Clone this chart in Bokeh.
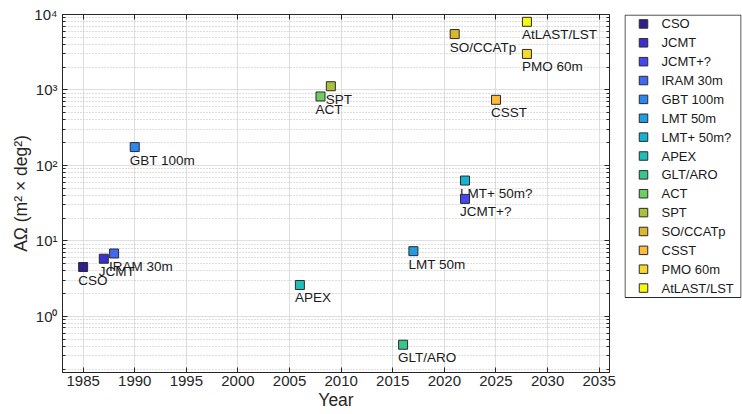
from bokeh.plotting import figure
from bokeh.layouts import row
from bokeh.models import (ColumnDataSource, FixedTicker, LogAxis, LinearAxis,
                          CustomJSTickFormatter, Range1d)
from bokeh.embed import file_html
from bokeh.resources import INLINE
from bokeh.core.properties import value

# ---- data ----
names = ["CSO", "JCMT", "JCMT+?", "IRAM 30m", "GBT 100m", "LMT 50m", "LMT+ 50m?",
         "APEX", "GLT/ARO", "ACT", "SPT", "SO/CCATp", "CSST", "PMO 60m", "AtLAST/LST"]
years = [1985, 1987, 2022, 1988, 1990, 2017, 2022, 2006, 2016, 2008, 2009, 2021, 2025, 2028, 2028]
a_omega = [4.5, 5.8, 36, 6.8, 175, 7.3, 63, 2.6, 0.42, 820, 1120, 5500, 740, 3000, 8000]
colors = ["#2e1f8f", "#3c30d0", "#4548f0", "#3f68f5", "#2b86f0", "#209de0", "#12b4d2",
          "#1ebfb8", "#38c68f", "#6ecc66", "#a9c23a", "#ddb72b", "#fdba3d", "#f7d92a", "#f8fa0e"]

x_ticks = [1985, 1990, 1995, 2000, 2005, 2010, 2015, 2020, 2025, 2030, 2035]
y_ticks = [1, 10, 100, 1000, 10000]
y_tick_labels = ["10\u2070", "10\u00b9", "10\u00b2", "10\u00b3", "10\u2074"]
y_minor = [m * 10.0 ** e for e in range(-1, 4) for m in range(2, 10)]

FONT = "Liberation Sans"
AX = "#262626"
TXT = "#1a1a1a"
TOP, BOTTOM = 14, 42

src = ColumnDataSource(dict(year=years, val=a_omega, name=names, color=colors))

# ---- main plot ----
p = figure(width=624, height=414, x_range=(1983, 2036), y_range=(0.18, 1e4),
           y_axis_type="log", output_backend="svg", toolbar_location=None,
           min_border_left=62, min_border_right=15, min_border_top=TOP, min_border_bottom=BOTTOM)
p.outline_line_color = AX
p.background_fill_color = "white"

xt = FixedTicker(ticks=x_ticks)
yt = FixedTicker(ticks=y_ticks, minor_ticks=y_minor)

xa = p.xaxis[0]
xa.ticker = xt
xa.axis_label = "Year"
ya = p.yaxis[0]
ya.ticker = yt
ya.axis_label = "A\u03a9 (m\u00b2 \u00d7 deg\u00b2)"
ya.major_label_overrides = {t: l for t, l in zip(y_ticks, y_tick_labels)}

for ax in (xa, ya):
    ax.axis_line_color = AX
    ax.major_tick_line_color = AX
    ax.minor_tick_line_color = AX
    ax.major_tick_in = 5
    ax.major_tick_out = 0
    ax.minor_tick_in = 3
    ax.minor_tick_out = 0
    ax.major_label_text_font = FONT
    ax.major_label_text_font_size = "15px"
    ax.major_label_text_color = AX
    ax.axis_label_text_font = FONT
    ax.axis_label_text_font_size = "17.5px"
    ax.axis_label_text_font_style = "normal"
    ax.axis_label_text_color = AX
xa.minor_tick_line_color = None
xa.major_label_standoff = 3
xa.axis_label_standoff = 1
ya.major_label_standoff = 5
ya.axis_label_standoff = 0

blank = CustomJSTickFormatter(code="return ''")
top = LinearAxis(ticker=xt, formatter=blank, major_label_text_font_size="0px",
                 major_label_standoff=0, major_tick_in=5, major_tick_out=0,
                 minor_tick_line_color=None, axis_line_color=AX, major_tick_line_color=AX)
right = LogAxis(ticker=yt, formatter=blank, major_label_text_font_size="0px",
                major_label_standoff=0, major_tick_in=5, major_tick_out=0,
                minor_tick_in=3, minor_tick_out=0,
                axis_line_color=AX, major_tick_line_color=AX, minor_tick_line_color=AX)
p.add_layout(top, "above")
p.add_layout(right, "right")

p.xgrid.grid_line_color = "#dedede"
p.ygrid.grid_line_color = "#dedede"
p.ygrid.minor_grid_line_color = "#bdbdbd"
p.ygrid.minor_grid_line_dash = "1 2"

p.text(x="year", y="val", text="name", source=src, x_offset=-5, y_offset=13,
       text_font=value(FONT), text_font_size="13.5px", text_baseline="middle",
       text_align="left", text_color=TXT)
p.scatter(x="year", y="val", source=src, marker="square", size=9,
          fill_color="color", line_color="#2b2b2b", line_width=1)

# ---- legend panel (same frame rows as the plot; box drawn as a quad) ----
n = len(names)
frame_h = 414 - TOP - BOTTOM
box_h = 283
rows_in_frame = frame_h / (box_h / n)
leg_src = ColumnDataSource(dict(row=[i + 0.5 for i in range(n)], name=names, color=colors))
lg = figure(width=118, height=414, x_range=Range1d(0, 117), y_range=Range1d(rows_in_frame, 0),
            output_backend="svg", toolbar_location=None,
            x_axis_location=None, y_axis_location=None,
            min_border_left=0, min_border_right=1, min_border_top=TOP, min_border_bottom=BOTTOM)
lg.grid.visible = False
lg.outline_line_color = None
lg.quad(left=0.5, right=116.5, top=0.03, bottom=n, fill_color="white",
        line_color=AX, line_width=1)
lg.scatter(x=19, y="row", source=leg_src, marker="square", size=8.5,
           fill_color="color", line_color="#2b2b2b", line_width=1)
lg.text(x=37, y="row", text="name", source=leg_src, text_font=value(FONT),
        text_font_size="13px", text_baseline="middle", text_align="left", text_color=TXT)

layout = row(p, lg, spacing=0)
open("out.html", "w").write(file_html(layout, INLINE))
